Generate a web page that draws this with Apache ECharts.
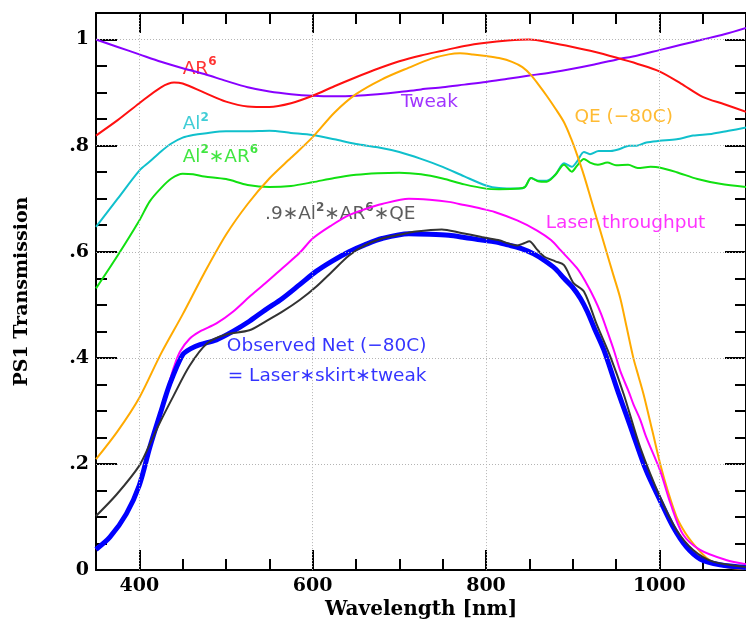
<!DOCTYPE html>
<html>
<head>
<meta charset="utf-8">
<script src="https://cdn.jsdelivr.net/npm/echarts@6.0.0/dist/echarts.min.js"></script>
<style>
  html, body { margin: 0; padding: 0; background: #fff; }
  #chart { width: 746px; height: 625px; }
</style>
</head>
<body>
<div id="chart"></div>
<script>
// wavelength [nm] / transmission
const wlTweak = [350, 375, 400, 425, 450, 475, 500, 525, 550, 575, 600, 625, 650, 675, 700, 725, 750, 775, 800, 825, 850, 875, 900, 925, 950, 975, 1000, 1025, 1050, 1075, 1100];
const tweak = [1.000, 0.986, 0.972, 0.958, 0.946, 0.935, 0.922, 0.910, 0.902, 0.897, 0.894, 0.893, 0.894, 0.897, 0.901, 0.906, 0.910, 0.915, 0.920, 0.926, 0.932, 0.938, 0.945, 0.953, 0.962, 0.970, 0.980, 0.990, 1.000, 1.010, 1.022];

const wlAR = [350, 375, 400, 425, 440, 450, 475, 500, 525, 550, 575, 600, 625, 650, 675, 700, 725, 750, 775, 800, 825, 850, 875, 900, 925, 950, 975, 1000, 1025, 1050, 1075, 1100];
const ar6 = [0.819, 0.848, 0.880, 0.910, 0.919, 0.917, 0.900, 0.883, 0.874, 0.873, 0.880, 0.894, 0.912, 0.929, 0.945, 0.959, 0.970, 0.979, 0.988, 0.994, 0.998, 1.000, 0.994, 0.986, 0.977, 0.966, 0.954, 0.940, 0.917, 0.892, 0.878, 0.864];

const wlAl = [350, 375, 400, 412, 425, 437, 450, 462, 475, 500, 525, 550, 575, 600, 625, 650, 675, 700, 725, 750, 775, 800, 815, 838, 845, 852, 860, 870, 880, 890, 899, 905, 913, 920, 930, 944, 955, 965, 974, 985, 1000, 1020, 1039, 1060, 1080, 1100];
const al2 = [0.647, 0.700, 0.753, 0.770, 0.789, 0.804, 0.815, 0.820, 0.823, 0.827, 0.827, 0.828, 0.824, 0.820, 0.812, 0.803, 0.797, 0.788, 0.775, 0.760, 0.742, 0.725, 0.720, 0.719, 0.722, 0.739, 0.734, 0.734, 0.745, 0.767, 0.760, 0.770, 0.788, 0.784, 0.790, 0.790, 0.794, 0.800, 0.800, 0.806, 0.809, 0.812, 0.819, 0.822, 0.828, 0.834];

const wlAlAR = [350, 375, 400, 412, 425, 437, 450, 462, 475, 500, 525, 550, 575, 600, 625, 650, 675, 700, 725, 750, 775, 800, 815, 838, 845, 852, 860, 870, 880, 890, 899, 905, 913, 920, 929, 940, 950, 964, 975, 990, 1000, 1020, 1044, 1070, 1100];
const al2ar6 = [0.531, 0.593, 0.659, 0.695, 0.720, 0.738, 0.747, 0.746, 0.742, 0.737, 0.726, 0.722, 0.724, 0.731, 0.739, 0.745, 0.748, 0.749, 0.746, 0.738, 0.727, 0.719, 0.718, 0.719, 0.722, 0.739, 0.733, 0.732, 0.745, 0.764, 0.751, 0.762, 0.775, 0.768, 0.764, 0.768, 0.763, 0.764, 0.758, 0.760, 0.759, 0.750, 0.737, 0.728, 0.722];

const wlQE = [350, 375, 400, 425, 450, 475, 500, 525, 550, 575, 600, 625, 650, 680, 711, 737, 757, 770, 785, 800, 815, 830, 842, 852, 861, 870, 880, 890, 898, 905, 913, 921, 930, 939, 947, 955, 962, 970, 976, 982, 992, 1001, 1010, 1020, 1030, 1039, 1050, 1058, 1077, 1100];
const qe = [0.209, 0.262, 0.325, 0.408, 0.482, 0.560, 0.632, 0.690, 0.738, 0.777, 0.816, 0.862, 0.897, 0.925, 0.947, 0.964, 0.972, 0.974, 0.972, 0.969, 0.965, 0.958, 0.948, 0.933, 0.914, 0.894, 0.870, 0.844, 0.814, 0.783, 0.744, 0.700, 0.650, 0.600, 0.556, 0.512, 0.460, 0.400, 0.365, 0.330, 0.262, 0.200, 0.148, 0.100, 0.070, 0.050, 0.030, 0.019, 0.006, 0.002];

const wlLaser = [350, 366, 385, 400, 412, 424, 432, 440, 447, 458, 470, 489, 508, 527, 545, 565, 585, 600, 622, 642, 660, 680, 711, 735, 757, 775, 795, 810, 836, 859, 875, 886, 905, 915, 925, 933, 940, 948, 955, 965, 970, 978, 985, 1001, 1013, 1027, 1047, 1077, 1100];
const laser = [0.039, 0.062, 0.108, 0.165, 0.235, 0.300, 0.340, 0.383, 0.412, 0.436, 0.450, 0.465, 0.487, 0.515, 0.540, 0.569, 0.598, 0.625, 0.650, 0.669, 0.680, 0.690, 0.700, 0.698, 0.694, 0.688, 0.681, 0.675, 0.659, 0.640, 0.622, 0.603, 0.569, 0.543, 0.512, 0.482, 0.450, 0.412, 0.375, 0.335, 0.313, 0.283, 0.250, 0.187, 0.125, 0.068, 0.038, 0.019, 0.011];

const wlNet = [350, 366, 385, 400, 412, 424, 435, 450, 460, 470, 489, 508, 527, 545, 565, 585, 604, 622, 642, 660, 680, 711, 735, 757, 775, 795, 810, 825, 841, 855, 867, 880, 890, 900, 909, 917, 925, 936, 947, 953, 962, 970, 985, 1001, 1016, 1031, 1047, 1070, 1100];
const net = [0.039, 0.062, 0.106, 0.160, 0.231, 0.294, 0.350, 0.406, 0.418, 0.425, 0.434, 0.450, 0.469, 0.490, 0.512, 0.538, 0.563, 0.582, 0.600, 0.613, 0.625, 0.634, 0.633, 0.631, 0.627, 0.622, 0.619, 0.613, 0.606, 0.596, 0.584, 0.568, 0.550, 0.533, 0.512, 0.487, 0.456, 0.415, 0.362, 0.333, 0.292, 0.255, 0.187, 0.131, 0.081, 0.044, 0.021, 0.010, 0.005];

const wlModel = [350, 374, 400, 412, 424, 439, 458, 478, 500, 527, 545, 565, 585, 604, 622, 642, 660, 680, 700, 719, 749, 770, 795, 814, 836, 844, 850, 858, 867, 880, 890, 901, 913, 928, 944, 959, 978, 1001, 1020, 1039, 1062, 1100];
const model = [0.102, 0.143, 0.197, 0.237, 0.279, 0.327, 0.385, 0.427, 0.444, 0.452, 0.468, 0.487, 0.509, 0.534, 0.562, 0.593, 0.612, 0.625, 0.632, 0.638, 0.642, 0.636, 0.628, 0.622, 0.612, 0.616, 0.620, 0.606, 0.591, 0.582, 0.575, 0.541, 0.525, 0.462, 0.400, 0.331, 0.231, 0.137, 0.075, 0.038, 0.016, 0.006];

// in-plot captions: left edge wavelength, centre transmission
const noteText = ['AR{sup|6}', 'Tweak', 'Al{sup|2}', 'Al{sup|2}\u2217AR{sup|6}', 'QE (\u221280C)', '.9\u2217Al{sup|2}\u2217AR{sup|6}\u2217QE', 'Laser throughput', 'Observed Net (\u221280C)', '= Laser\u2217skirt\u2217tweak'];
const noteX = [450, 702, 450, 450, 902, 545, 869, 501, 502];
const noteY = [0.944, 0.882, 0.840, 0.779, 0.854, 0.670, 0.653, 0.422, 0.366];
const noteColor = ['#ff0000', '#8800ff', '#10c0cc', '#11e011', '#ffaa00', '#333333', '#ff00ff', '#0000ff', '#0000ff'];

const majorX = [400, 600, 800, 1000];
const majorY = [0, 0.2, 0.4, 0.6, 0.8, 1.0];

function pairs(xs, ys) {
  return xs.map((x, i) => [x, ys[i]]);
}

const chart = echarts.init(document.getElementById('chart'));

const tickFont = { fontFamily: 'DejaVu Serif', fontWeight: 'bold', fontSize: 19, color: '#000' };
const titleFont = { fontFamily: 'DejaVu Serif', fontWeight: 'bold', fontSize: 20, color: '#000' };
const black = { color: '#000', width: 2 };

// one frame side; major sides carry the long ticks, minor ones the short ticks
function ax(min, max, pos, major, step, len, custom) {
  const a = {
    type: 'value', min: min, max: max, position: pos,
    axisLine: { show: major, onZero: false, lineStyle: black },
    axisTick: { show: true, inside: true, length: len, lineStyle: black },
    axisLabel: { show: false },
    splitLine: { show: false }
  };
  if (major) a.axisTick.customValues = custom; else a.interval = step;
  return a;
}

const xBottom = ax(350, 1100, 'bottom', true, 0, 20, majorX);
xBottom.axisLabel = { show: true, margin: 6, customValues: majorX, ...tickFont, formatter: v => String(v) };
xBottom.name = 'Wavelength [nm]';
xBottom.nameLocation = 'middle';
xBottom.nameGap = 28;
xBottom.nameTextStyle = titleFont;

const yLeft = ax(0, 1.05, 'left', true, 0, 21, majorY);
yLeft.axisLabel = {
  show: true, margin: 7, customValues: majorY, ...tickFont,
  formatter: v => {
    const r = Math.round(v * 10);
    if (r === 0) return '0';
    if (r === 10) return '1';
    return '.' + r;
  }
};
yLeft.name = 'PS1 Transmission';
yLeft.nameLocation = 'middle';
yLeft.nameGap = 64;
yLeft.nameTextStyle = { ...titleFont, fontSize: 19 };

// hidden axis pair (index 4) that carries the curves
const xData = { type: 'value', min: 350, max: 1100, show: false };
const yData = { type: 'value', min: 0, max: 1.05, show: false };

function curve(data, color, width) {
  return {
    type: 'line', data: data, xAxisIndex: 4, yAxisIndex: 4,
    showSymbol: false, symbol: 'none',
    smooth: 0.3, animation: false, silent: true,
    lineStyle: { color: color, width: width }
  };
}

const option = {
  animation: false,
  backgroundColor: '#fff',
  grid: { left: 96, top: 13, width: 653, height: 560.5 },
  xAxis: [xBottom, ax(350, 1100, 'bottom', false, 50, 11), ax(350, 1100, 'top', true, 0, 20, majorX), ax(350, 1100, 'top', false, 50, 11), xData],
  yAxis: [yLeft, ax(0, 1.05, 'left', false, 0.05, 11), ax(0, 1.05, 'right', true, 0, 21, majorY), ax(0, 1.05, 'right', false, 0.05, 11), yData],
  series: [
    {
      // dotted grid at the major ticks
      type: 'line', data: [], silent: true, animation: false,
      markLine: {
        silent: true, symbol: 'none', animation: false,
        label: { show: false },
        lineStyle: { color: '#b4b4b4', type: [1, 2], width: 1 },
        data: majorX.map(v => ({ xAxis: v })).concat(majorY.slice(1).map(v => ({ yAxis: v })))
      }
    },
    curve(pairs(wlTweak, tweak), '#8800ff', 2),
    curve(pairs(wlAR, ar6), '#ff1010', 2),
    curve(pairs(wlAl, al2), '#10c0cc', 2),
    curve(pairs(wlAlAR, al2ar6), '#11e011', 2),
    curve(pairs(wlQE, qe), '#ffaa00', 2),
    curve(pairs(wlLaser, laser), '#ff00ff', 2),
    curve(pairs(wlNet, net), '#0000ff', 5),
    curve(pairs(wlModel, model), '#333333', 2),
    {
      type: 'scatter', xAxisIndex: 4, yAxisIndex: 4,
      symbolSize: 0, silent: true, animation: false,
      data: noteText.map((t, i) => ({
        value: [noteX[i], noteY[i]],
        label: { color: noteColor[i] }
      })),
      label: {
        show: true, position: 'right', distance: 0,
        fontFamily: 'DejaVu Sans', fontSize: 18.5, lineHeight: 26,
        formatter: p => noteText[p.dataIndex],
        rich: {
          sup: { fontFamily: 'DejaVu Sans', fontSize: 12, fontWeight: 'bold', lineHeight: 12, verticalAlign: 'top' }
        }
      }
    }
  ]
};

chart.setOption(option);
</script>
</body>
</html>
